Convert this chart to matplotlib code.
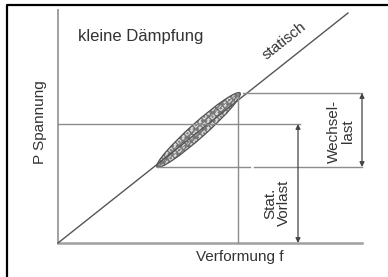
import matplotlib
matplotlib.use('Agg')
import matplotlib.pyplot as plt
from matplotlib.patches import Ellipse
import numpy as np

plt.rcParams['font.family'] = ['Liberation Sans', 'DejaVu Sans']

# diagram values (f = Verformung, P = Spannung), in drawing units
f_axis_end = 304
P_axis_end = 233
static_f = [0, 290]
static_P = [0, 230]
loop_lo = (99, 76)      # unteres Ende der Hystereseschleife
loop_hi = (182, 150)    # oberes Ende
loop_width = 15
P_preload = 119
f_vertical = 180
f_arrow_wechsel = 304
f_arrow_vorlast = 240

fig = plt.figure(figsize=(3.88, 2.77), dpi=100)
ax = fig.add_axes([0, 0, 1, 1])
ax.set_xlim(-58, 330)
ax.set_ylim(-34, 243)
ax.axis('off')

# outer frame (only left and top are visible)
ax.plot([-51, -51, 330], [-34, 238, 238], color='black', lw=1.6)

# axes
axis_col = '#a0a0a0'
ax.plot([0, 0], [0, P_axis_end], color=axis_col, lw=1.4)
ax.plot([0, f_axis_end], [0, 0], color=axis_col, lw=1.8)

# static line
ax.plot(static_f, static_P, color='#555555', lw=1.0)

# hysteresis loop
cx = (loop_lo[0] + loop_hi[0]) / 2
cy = (loop_lo[1] + loop_hi[1]) / 2
length = np.hypot(loop_hi[0] - loop_lo[0], loop_hi[1] - loop_lo[1])
angle = np.degrees(np.arctan2(loop_hi[1] - loop_lo[1], loop_hi[0] - loop_lo[0]))
ax.add_patch(Ellipse((cx, cy), length, loop_width, angle=angle,
                     facecolor='#dcdcdc', edgecolor='#777777', hatch='xxxx....', lw=0))
ax.add_patch(Ellipse((cx, cy), length, loop_width * 0.35, angle=angle,
                     facecolor='none', edgecolor='#777777', lw=0.6))
ax.add_patch(Ellipse((cx, cy), length, loop_width, angle=angle,
                     facecolor='none', edgecolor='#505050', lw=0.9))

# guide lines
line_col = '#8c8c8c'
ax.plot([loop_hi[0] + 3, f_axis_end], [loop_hi[1], loop_hi[1]], color=line_col, lw=1.0)
ax.plot([0, f_arrow_vorlast + 2], [P_preload, P_preload], color=line_col, lw=1.0)
ax.plot([loop_lo[0], 192], [loop_lo[1], loop_lo[1]], color=line_col, lw=1.0)
ax.plot([196, f_axis_end], [loop_lo[1], loop_lo[1]], color=line_col, lw=1.0)
ax.plot([f_vertical, f_vertical], [0, loop_hi[1]], color=line_col, lw=1.0)

# dimension arrows
arrow = dict(arrowstyle='<|-|>', color='#444444', lw=0.9, mutation_scale=7,
             shrinkA=0, shrinkB=0)
ax.annotate('', xy=(f_arrow_wechsel, loop_hi[1]), xytext=(f_arrow_wechsel, loop_lo[1]),
            arrowprops=arrow)
ax.annotate('', xy=(f_arrow_vorlast, P_preload), xytext=(f_arrow_vorlast, 0),
            arrowprops=arrow)

# texts
tc = '#333333'
ax.text(20, 206, 'kleine Dämpfung', fontsize=12, color=tc, ha='left', va='center')
ax.text(226, 202, 'statisch', fontsize=11, color=tc, ha='center', va='center', rotation=38.4)
ax.text(-18, 121, 'P Spannung', fontsize=11, color=tc, ha='center', va='center', rotation=90)
ax.text(182, -14, 'Verformung f', fontsize=11, color=tc, ha='center', va='center')
ax.text(283, 112, 'Wechsel-\nlast', fontsize=11, color=tc, ha='center', va='center',
        rotation=90, linespacing=1.0, multialignment='center')
ax.text(219, 40, 'Stat.\nVorlast', fontsize=11, color=tc, ha='center', va='center',
        rotation=90, linespacing=1.0, multialignment='center')

fig.savefig('out.png', dpi=100, facecolor='white')
